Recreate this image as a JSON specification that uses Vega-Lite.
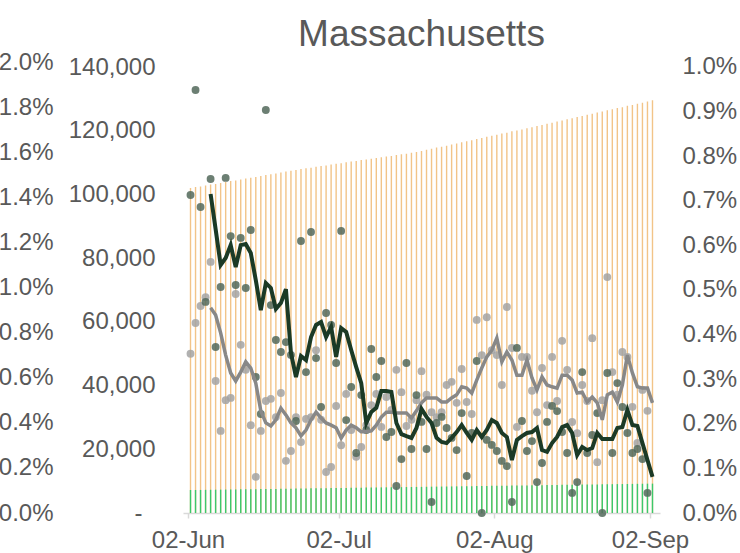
{
"$schema": "https://vega.github.io/schema/vega-lite/v6.json",
"width": 477, "height": 451,
"autosize": {"type": "none"},
"padding": {"left": 183, "top": 62, "right": 80, "bottom": 40},
"background": "white",
"title": {"text": "Massachusetts", "fontSize": 37, "font": "Liberation Sans", "fontWeight": "normal", "color": "#595959", "anchor": "middle", "frame": "group", "offset": -4},
"config": {"view": {"stroke": null}, "font": "Liberation Sans", "axis": {"labelFont": "Liberation Sans", "labelFontSize": 24, "labelColor": "#595959", "grid": false}},
"data": {"values": [
{"date":"2020-06-02","total":102000,"pos":7200,"dark":1.410,"grey":0.357},
{"date":"2020-06-03","total":102300,"pos":7220,"dark":1.876,"grey":0.426},
{"date":"2020-06-04","total":102500,"pos":7240,"dark":1.357,"grey":0.464},
{"date":"2020-06-05","total":102800,"pos":7270,"dark":0.936,"grey":0.484},
{"date":"2020-06-06","total":103100,"pos":7290,"dark":1.481,"grey":0.563,"darkAvg":1.415,"greyAvg":0.460},
{"date":"2020-06-07","total":103300,"pos":7310,"dark":0.736,"grey":0.296,"darkAvg":1.259,"greyAvg":0.444},
{"date":"2020-06-08","total":103600,"pos":7330,"dark":1.002,"grey":0.184,"darkAvg":1.100,"greyAvg":0.404},
{"date":"2020-06-09","total":103900,"pos":7350,"dark":1.486,"grey":0.253,"darkAvg":1.131,"greyAvg":0.354},
{"date":"2020-06-10","total":104200,"pos":7380,"dark":1.228,"grey":0.258,"darkAvg":1.188,"greyAvg":0.314},
{"date":"2020-06-11","total":104400,"pos":7400,"dark":1.011,"grey":0.491,"darkAvg":1.091,"greyAvg":0.296},
{"date":"2020-06-12","total":104700,"pos":7420,"dark":1.220,"grey":0.377,"darkAvg":1.188,"greyAvg":0.316},
{"date":"2020-06-13","total":105000,"pos":7440,"dark":0.998,"grey":0.321,"darkAvg":1.193,"greyAvg":0.339},
{"date":"2020-06-14","total":105200,"pos":7460,"dark":1.255,"grey":0.197,"darkAvg":1.153,"greyAvg":0.325},
{"date":"2020-06-15","total":105500,"pos":7490,"dark":0.603,"grey":0.081,"darkAvg":1.033,"greyAvg":0.291},
{"date":"2020-06-16","total":105800,"pos":7510,"dark":0.439,"grey":0.184,"darkAvg":0.900,"greyAvg":0.229},
{"date":"2020-06-17","total":106100,"pos":7530,"dark":1.787,"grey":0.251,"darkAvg":1.020,"greyAvg":0.202},
{"date":"2020-06-18","total":106300,"pos":7550,"dark":0.922,"grey":0.256,"darkAvg":0.998,"greyAvg":0.195},
{"date":"2020-06-19","total":106600,"pos":7570,"dark":0.767,"grey":0.215,"darkAvg":0.905,"greyAvg":0.209},
{"date":"2020-06-20","total":106900,"pos":7600,"dark":0.714,"grey":0.269,"darkAvg":0.931,"greyAvg":0.235},
{"date":"2020-06-21","total":107200,"pos":7620,"dark":0.758,"grey":0.117,"darkAvg":0.993,"greyAvg":0.220},
{"date":"2020-06-22","total":107400,"pos":7640,"dark":0.701,"grey":0.139,"darkAvg":0.710,"greyAvg":0.202},
{"date":"2020-06-23","total":107700,"pos":7660,"dark":0.408,"grey":0.215,"darkAvg":0.603,"greyAvg":0.191},
{"date":"2020-06-24","total":108000,"pos":7680,"dark":1.206,"grey":0.159,"darkAvg":0.696,"greyAvg":0.173},
{"date":"2020-06-25","total":108200,"pos":7710,"dark":0.625,"grey":0.211,"darkAvg":0.678,"greyAvg":0.186},
{"date":"2020-06-26","total":108400,"pos":7730,"dark":1.246,"grey":0.215,"darkAvg":0.780,"greyAvg":0.209},
{"date":"2020-06-27","total":108700,"pos":7750,"dark":0.687,"grey":0.365,"darkAvg":0.834,"greyAvg":0.226},
{"date":"2020-06-28","total":108900,"pos":7770,"dark":0.470,"grey":0.209,"darkAvg":0.847,"greyAvg":0.213},
{"date":"2020-06-29","total":109100,"pos":7790,"dark":0.887,"grey":0.092,"darkAvg":0.780,"greyAvg":0.202},
{"date":"2020-06-30","total":109400,"pos":7820,"dark":0.834,"grey":0.103,"darkAvg":0.825,"greyAvg":0.197},
{"date":"2020-07-01","total":109600,"pos":7840,"dark":0.665,"grey":0.240,"darkAvg":0.692,"greyAvg":0.191},
{"date":"2020-07-02","total":109800,"pos":7860,"dark":1.251,"grey":0.152,"darkAvg":0.820,"greyAvg":0.168},
{"date":"2020-07-03","total":110100,"pos":7880,"dark":0.412,"grey":0.267,"darkAvg":0.803,"greyAvg":0.186},
{"date":"2020-07-04","total":110300,"pos":7900,"dark":0.559,"grey":0.186,"darkAvg":0.723,"greyAvg":0.197},
{"date":"2020-07-05","total":110500,"pos":7930,"dark":0.266,"grey":0.126,"darkAvg":0.647,"greyAvg":0.191},
{"date":"2020-07-06","total":110800,"pos":7950,"dark":0.523,"grey":0.148,"darkAvg":0.576,"greyAvg":0.182},
{"date":"2020-07-07","total":111000,"pos":7970,"dark":0.368,"grey":0.197,"darkAvg":0.399,"greyAvg":0.182},
{"date":"2020-07-08","total":111200,"pos":7990,"dark":0.727,"grey":0.242,"darkAvg":0.448,"greyAvg":0.184},
{"date":"2020-07-09","total":111400,"pos":8010,"dark":0.603,"grey":0.267,"darkAvg":0.466,"greyAvg":0.197},
{"date":"2020-07-10","total":111700,"pos":8040,"dark":0.674,"grey":0.193,"darkAvg":0.541,"greyAvg":0.215},
{"date":"2020-07-11","total":111900,"pos":8060,"dark":0.337,"grey":0.260,"darkAvg":0.541,"greyAvg":0.226},
{"date":"2020-07-12","total":112100,"pos":8080,"dark":0.359,"grey":0.231,"darkAvg":0.537,"greyAvg":0.226},
{"date":"2020-07-13","total":112400,"pos":8100,"dark":0.120,"grey":0.321,"darkAvg":0.399,"greyAvg":0.224},
{"date":"2020-07-14","total":112600,"pos":8120,"dark":0.239,"grey":0.271,"darkAvg":0.350,"greyAvg":0.224},
{"date":"2020-07-15","total":112800,"pos":8150,"dark":0.665,"grey":0.195,"darkAvg":0.341,"greyAvg":0.224},
{"date":"2020-07-16","total":113100,"pos":8170,"dark":0.284,"grey":0.209,"darkAvg":0.333,"greyAvg":0.213},
{"date":"2020-07-17","total":113300,"pos":8190,"dark":0.523,"grey":0.253,"darkAvg":0.377,"greyAvg":0.229},
{"date":"2020-07-18","total":113600,"pos":8210,"dark":0.404,"grey":0.318,"darkAvg":0.461,"greyAvg":0.247},
{"date":"2020-07-19","total":114000,"pos":8230,"dark":0.284,"grey":0.265,"darkAvg":0.426,"greyAvg":0.258},
{"date":"2020-07-20","total":114300,"pos":8260,"dark":0.049,"grey":0.226,"darkAvg":0.399,"greyAvg":0.258},
{"date":"2020-07-21","total":114700,"pos":8280,"dark":0.399,"grey":0.215,"darkAvg":0.333,"greyAvg":0.258},
{"date":"2020-07-22","total":115000,"pos":8300,"dark":0.426,"grey":0.226,"darkAvg":0.315,"greyAvg":0.249},
{"date":"2020-07-23","total":115300,"pos":8320,"dark":0.377,"grey":0.287,"darkAvg":0.310,"greyAvg":0.249},
{"date":"2020-07-24","total":115700,"pos":8340,"dark":0.333,"grey":0.294,"darkAvg":0.333,"greyAvg":0.258},
{"date":"2020-07-25","total":116000,"pos":8370,"dark":0.279,"grey":0.247,"darkAvg":0.359,"greyAvg":0.265},
{"date":"2020-07-26","total":116400,"pos":8390,"dark":0.443,"grey":0.323,"darkAvg":0.390,"greyAvg":0.283},
{"date":"2020-07-27","total":116700,"pos":8410,"dark":0.164,"grey":0.249,"darkAvg":0.355,"greyAvg":0.280},
{"date":"2020-07-28","total":117000,"pos":8430,"dark":0.355,"grey":0.222,"darkAvg":0.324,"greyAvg":0.269},
{"date":"2020-07-29","total":117400,"pos":8450,"dark":0.674,"grey":0.433,"darkAvg":0.368,"greyAvg":0.298},
{"date":"2020-07-30","total":117700,"pos":8480,"dark":0.000,"grey":0.354,"darkAvg":0.337,"greyAvg":0.325},
{"date":"2020-07-31","total":118100,"pos":8500,"dark":0.324,"grey":0.439,"darkAvg":0.368,"greyAvg":0.350},
{"date":"2020-08-01","total":118400,"pos":8520,"dark":0.302,"grey":0.365,"darkAvg":0.412,"greyAvg":0.365},
{"date":"2020-08-02","total":118700,"pos":8540,"dark":0.275,"grey":0.354,"darkAvg":0.399,"greyAvg":0.392},
{"date":"2020-08-03","total":119100,"pos":8560,"dark":0.231,"grey":0.287,"darkAvg":0.355,"greyAvg":0.339},
{"date":"2020-08-04","total":119400,"pos":8590,"dark":0.208,"grey":0.462,"darkAvg":0.337,"greyAvg":0.361},
{"date":"2020-08-05","total":119800,"pos":8610,"dark":0.049,"grey":0.370,"darkAvg":0.235,"greyAvg":0.343},
{"date":"2020-08-06","total":120100,"pos":8630,"dark":0.732,"grey":0.193,"darkAvg":0.324,"greyAvg":0.309},
{"date":"2020-08-07","total":120400,"pos":8650,"dark":0.408,"grey":0.350,"darkAvg":0.341,"greyAvg":0.309},
{"date":"2020-08-08","total":120800,"pos":8670,"dark":0.275,"grey":0.350,"darkAvg":0.355,"greyAvg":0.343},
{"date":"2020-08-09","total":121100,"pos":8700,"dark":0.319,"grey":0.274,"darkAvg":0.359,"greyAvg":0.303},
{"date":"2020-08-10","total":121500,"pos":8720,"dark":0.137,"grey":0.226,"darkAvg":0.377,"greyAvg":0.276},
{"date":"2020-08-11","total":121800,"pos":8740,"dark":0.222,"grey":0.325,"darkAvg":0.279,"greyAvg":0.305},
{"date":"2020-08-12","total":122200,"pos":8760,"dark":0.404,"grey":0.242,"darkAvg":0.271,"greyAvg":0.287},
{"date":"2020-08-13","total":122500,"pos":8780,"dark":0.475,"grey":0.350,"darkAvg":0.310,"greyAvg":0.283},
{"date":"2020-08-14","total":122900,"pos":8810,"dark":0.452,"grey":0.251,"darkAvg":0.337,"greyAvg":0.280},
{"date":"2020-08-15","total":123200,"pos":8830,"dark":0.359,"grey":0.386,"darkAvg":0.381,"greyAvg":0.309},
{"date":"2020-08-16","total":123600,"pos":8850,"dark":0.266,"grey":0.321,"darkAvg":0.390,"greyAvg":0.309},
{"date":"2020-08-17","total":123900,"pos":8870,"dark":0.089,"grey":0.204,"darkAvg":0.355,"greyAvg":0.298},
{"date":"2020-08-18","total":124300,"pos":8890,"dark":0.137,"grey":0.179,"darkAvg":0.257,"greyAvg":0.269},
{"date":"2020-08-19","total":124600,"pos":8920,"dark":0.625,"grey":0.287,"darkAvg":0.293,"greyAvg":0.271},
{"date":"2020-08-20","total":125000,"pos":8940,"dark":0.266,"grey":0.251,"darkAvg":0.279,"greyAvg":0.249},
{"date":"2020-08-21","total":125300,"pos":8960,"dark":0.346,"grey":0.392,"darkAvg":0.288,"greyAvg":0.260},
{"date":"2020-08-22","total":125700,"pos":8980,"dark":0.443,"grey":0.114,"darkAvg":0.355,"greyAvg":0.247},
{"date":"2020-08-23","total":126000,"pos":9000,"dark":0.000,"grey":0.253,"darkAvg":0.328,"greyAvg":0.209},
{"date":"2020-08-24","total":126400,"pos":9030,"dark":0.621,"grey":0.529,"darkAvg":0.328,"greyAvg":0.265},
{"date":"2020-08-25","total":126700,"pos":9050,"dark":0.266,"grey":0.316,"darkAvg":0.328,"greyAvg":0.271},
{"date":"2020-08-26","total":127100,"pos":9070,"dark":0.576,"grey":0.265,"darkAvg":0.377,"greyAvg":0.249},
{"date":"2020-08-27","total":127400,"pos":9090,"dark":0.470,"grey":0.361,"darkAvg":0.381,"greyAvg":0.287},
{"date":"2020-08-28","total":127800,"pos":9110,"dark":0.355,"grey":0.350,"darkAvg":0.457,"greyAvg":0.354},
{"date":"2020-08-29","total":128100,"pos":9140,"dark":0.266,"grey":0.238,"darkAvg":0.390,"greyAvg":0.314},
{"date":"2020-08-30","total":128500,"pos":9160,"dark":0.284,"grey":0.157,"darkAvg":0.386,"greyAvg":0.283},
{"date":"2020-08-31","total":128800,"pos":9180,"dark":0.239,"grey":0.276,"darkAvg":0.310,"greyAvg":0.280},
{"date":"2020-09-01","total":129200,"pos":9200,"dark":0.089,"grey":0.229,"darkAvg":0.235,"greyAvg":0.280},
{"date":"2020-09-02","total":129600,"pos":9220,"darkAvg":0.160,"greyAvg":0.247}
]},
"encoding": {
  "x": {"field": "date", "type": "temporal",
    "scale": {"type": "utc", "domain": [{"year": 2020, "month": 6, "date": 1, "hours": 12, "utc": true}, {"year": 2020, "month": 9, "date": 2, "hours": 12, "utc": true}]},
    "axis": {"title": null, "orient": "bottom",
      "values": [{"year": 2020, "month": 6, "date": 1, "hours": 12, "utc": true}, {"year": 2020, "month": 7, "date": 1, "hours": 12, "utc": true}, {"year": 2020, "month": 8, "date": 1, "hours": 12, "utc": true}, {"year": 2020, "month": 9, "date": 1, "hours": 12, "utc": true}],
      "labelExpr": "utcFormat(datum.value + 43200000, '%d-%b')",
      "domainColor": "#D9D9D9", "domainWidth": 1.5, "tickColor": "#D9D9D9", "tickSize": 5, "tickWidth": 1.5,
      "labelPadding": 10, "labelFlush": false, "labelOverlap": false, "labelBound": false}}
},
"layer": [
  {"mark": {"type": "bar", "width": 1.4, "color": "#F2C488"},
   "encoding": {"y": {"field": "total", "type": "quantitative", "scale": {"domain": [0, 141570], "nice": false},
     "axis": {"title": null, "orient": "left", "values": [0, 20000, 40000, 60000, 80000, 100000, 120000, 140000],
       "labelExpr": "datum.value == 0 ? '-' : format(datum.value, ',')",
       "labelPadding": {"condition": {"test": "datum.value == 0", "value": 41}, "value": 28},
       "ticks": false, "domain": false, "labelOverlap": false}}}},
  {"mark": {"type": "bar", "width": 1.4, "color": "#3CC86C"},
   "encoding": {"y": {"field": "pos", "type": "quantitative", "scale": {"domain": [0, 141570], "nice": false}, "axis": null}}},
  {"mark": {"type": "point", "filled": true, "size": 62, "color": "#A3A3A3", "opacity": 0.85},
   "encoding": {"y": {"field": "grey", "type": "quantitative", "scale": {"domain": [0, 1.0112], "nice": false},
     "axis": {"title": null, "orient": "right", "values": [0, 0.1, 0.2, 0.3, 0.4, 0.5, 0.6, 0.7, 0.8, 0.9, 1.0],
       "labelExpr": "format(datum.value, '.1f') + '%'", "ticks": false, "domain": false, "labelPadding": 22, "labelOverlap": false}}}},
  {"mark": {"type": "point", "filled": true, "size": 62, "color": "#52695A", "opacity": 0.85},
   "encoding": {"y": {"field": "dark", "type": "quantitative", "scale": {"domain": [0, 2], "nice": false},
     "axis": {"title": null, "orient": "left", "offset": 102, "values": [0, 0.2, 0.4, 0.6, 0.8, 1.0, 1.2, 1.4, 1.6, 1.8, 2.0],
       "labelExpr": "format(datum.value, '.1f') + '%'", "ticks": false, "domain": false, "labelPadding": 28, "labelOverlap": false}}}},
  {"mark": {"type": "line", "color": "#888888", "strokeWidth": 3.5},
   "encoding": {"y": {"field": "greyAvg", "type": "quantitative", "scale": {"domain": [0, 1.0112], "nice": false}, "axis": null}}},
  {"mark": {"type": "line", "color": "#1B3A26", "strokeWidth": 4},
   "encoding": {"y": {"field": "darkAvg", "type": "quantitative", "scale": {"domain": [0, 2], "nice": false}, "axis": null}}}
],
"resolve": {"scale": {"y": "independent"}}
}
